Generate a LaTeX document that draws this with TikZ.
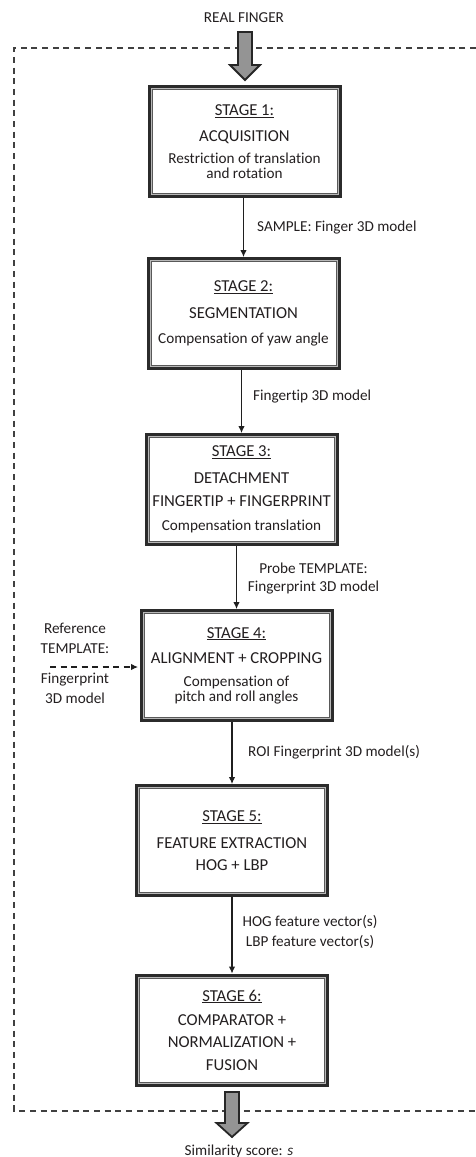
\documentclass[tikz,border=0pt]{standalone}
\usepackage{fontspec}
\setmainfont{Carlito}[Ligatures=NoCommon]
\usetikzlibrary{arrows.meta}
\definecolor{txt}{HTML}{231F20}
\definecolor{frm}{HTML}{2B2B2B}
\newcommand\fbig{\fontsize{16.7}{14.7}\selectfont}
\newcommand\fsml{\fontsize{15.2}{14.7}\selectfont}
\begin{document}
\begin{tikzpicture}[x=1pt,y=-1pt,
  stagebox/.style={rectangle, draw=frm, line width=3pt, fill=black!28,
    minimum width=191pt, minimum height=110pt, inner sep=0pt,
    align=center, text=txt, font=\fsml,
    path picture={\draw[line width=1pt, draw=black!65, fill=white]
      ([xshift=3pt,yshift=-3pt]path picture bounding box.north west) rectangle
      ([xshift=-3pt,yshift=3pt]path picture bounding box.south east);}},
  lbl/.style={inner sep=0pt, text=txt, font=\fsml},
  conn/.style={draw=black!88, line width=1.1pt, -{Latex[length=7pt,width=6.5pt]}},
  dconn/.style={conn, dash pattern=on 6pt off 4.5pt},
  frame/.style={draw=black!75, line width=1.3pt, dash pattern=on 6pt off 4.7pt},
  blockarrow/.style={fill=black!42, draw=black!85, line width=1.8pt, line join=miter}
]
\useasboundingbox (0,0) rectangle (476,1157);

% dashed frame
\draw[frame] (476,48) -- (14,48) -- (14,1111) -- (476,1111);

% stages
\node[stagebox] (s1) at (244.5,141.5)
  {\underline{\fbig STAGE 1:}\\[11pt]{\fbig ACQUISITION}\\[8pt]Restriction of translation\\and rotation};
\node[stagebox] (s2) at (243.5,313.5)
  {\underline{\fbig STAGE 2:}\\[12pt]{\fbig SEGMENTATION}\\[10pt]Compensation of yaw angle};
\node[stagebox] (s3) at (241.5,489.5)
  {\underline{\fbig STAGE 3:}\\[12pt]{\fbig DETACHMENT}\\[8pt]{\fbig FINGERTIP + FINGERPRINT}\\[10pt]Compensation translation};
\node[stagebox] (s4) at (236.5,665.5)
  {\underline{\fbig STAGE 4:}\\[11pt]{\fbig ALIGNMENT + CROPPING}\\[8pt]Compensation of\\pitch and roll angles};
\node[stagebox] (s5) at (232,840.5)
  {\underline{\fbig STAGE 5:}\\[12pt]{\fbig FEATURE EXTRACTION}\\[7pt]{\fbig HOG + LBP}};
\node[stagebox] (s6) at (232,1030)
  {\underline{\fbig STAGE 6:}\\[10pt]{\fbig COMPARATOR +}\\[7pt]{\fbig NORMALIZATION +}\\[8pt]{\fbig FUSION}};

% labels
\node[lbl] (rf) at (244,18) {REAL FINGER};
\node[lbl, anchor=west] (l12) at (257,228) {SAMPLE: Finger 3D model};
\node[lbl, anchor=west] (l23) at (253,397) {Fingertip 3D model};
\node[lbl, align=center, font=\fontsize{15.2}{18}\selectfont] (l34) at (313.5,579) {Probe TEMPLATE:\\Fingerprint 3D model};
\node[lbl, anchor=west] (l45) at (248,752) {ROI Fingerprint 3D model(s)};
\node[lbl, align=center, font=\fontsize{15.2}{20}\selectfont] (l56) at (310,932) {HOG feature vector(s)\\LBP feature vector(s)};
\node[lbl, align=center, font=\fontsize{15.2}{20}\selectfont] (reft) at (75,638) {Reference\\TEMPLATE:};
\node[lbl, align=center, font=\fontsize{15.2}{20}\selectfont] (refb) at (75,688) {Fingerprint\\3D model};
\node[lbl] (sim) at (239,1151) {Similarity score: \textit{s}};
\coordinate (refstart) at (50,667);

% connectors
\draw[conn] (s2.north |- s1.south) -- (s2.north);
\draw[conn] (s3.north |- s2.south) -- (s3.north);
\draw[conn] (s4.north |- s3.south) -- (s4.north);
\draw[conn] (s5.north |- s4.south) -- (s5.north);
\draw[conn] (s6.north |- s5.south) -- (s6.north);
\draw[dconn, shorten >=1.5pt] (refstart) -- (refstart -| s4.west);

% block arrows
\draw[blockarrow] (238,32) -- (252,32) -- (252,65) -- (260,65) -- (245,80) -- (230,65) -- (238,65) -- cycle;
\draw[blockarrow] (225,1092) -- (239,1092) -- (239,1123) -- (247.5,1123) -- (232,1137) -- (216.5,1123) -- (225,1123) -- cycle;
\end{tikzpicture}
\end{document}
